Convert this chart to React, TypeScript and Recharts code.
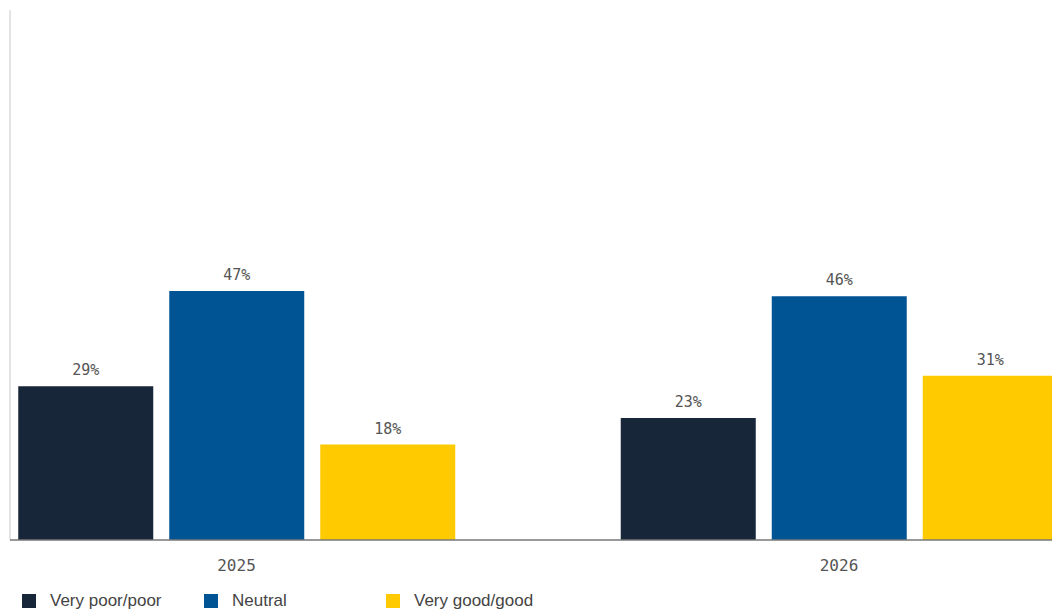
import { BarChart, Bar, XAxis, YAxis, LabelList } from "recharts";

// survey answers, share of respondents (%)
const years = ["2025", "2026"];
const veryPoorPoor = [29, 23];
const neutral = [47, 46];
const veryGoodGood = [18, 31];

const series = [
  { key: "poor", name: "Very poor/poor", color: "#172639" },
  { key: "neutral", name: "Neutral", color: "#005494" },
  { key: "good", name: "Very good/good", color: "#FFCB00" },
];

const data = years.map((year, i) => ({
  year,
  poor: veryPoorPoor[i],
  neutral: neutral[i],
  good: veryGoodGood[i],
}));

const monoFont = "'DejaVu Sans Mono', monospace";

export default function App() {
  return (
    <div
      style={{
        position: "fixed",
        top: 0,
        left: 0,
        width: 1052,
        height: 615,
        overflow: "hidden",
        background: "#fff",
      }}
    >
      <BarChart
        width={1100}
        height={615}
        data={data}
        margin={{ top: 10, right: 0, left: 9, bottom: 45 }}
        barSize={135}
        barGap={16}
      >
        <YAxis
          type="number"
          domain={[0, 100]}
          width={1}
          tick={false}
          tickLine={false}
          axisLine={{ stroke: "#c8c8c8" }}
        />
        {/* the original is cropped, so the category bands spill past the plot edges */}
        <XAxis
          dataKey="year"
          tickLine={false}
          tickMargin={14}
          axisLine={{ stroke: "#777", strokeWidth: 1.5 }}
          padding={{ left: -74.75, right: -40.25 }}
          tick={{ fontSize: 16, fill: "#555", fontFamily: monoFont }}
        />
        {series.map((s) => (
          <Bar key={s.key} dataKey={s.key} name={s.name} fill={s.color} isAnimationActive={false}>
            <LabelList
              dataKey={s.key}
              position="top"
              offset={11}
              formatter={(v: any) => `${v}%`}
              style={{ fontSize: 15, fill: "#555", fontFamily: monoFont }}
            />
          </Bar>
        ))}
      </BarChart>
      <div
        style={{
          position: "absolute",
          left: 22,
          top: 591,
          display: "flex",
          fontFamily: "'Liberation Sans', Arial, sans-serif",
          fontSize: 17,
          color: "#444",
        }}
      >
        {series.map((s) => (
          <div key={s.key} style={{ width: 182, display: "flex", alignItems: "center" }}>
            <span
              style={{
                display: "inline-block",
                width: 14,
                height: 14,
                background: s.color,
                marginRight: 14,
              }}
            />
            <span>{s.name}</span>
          </div>
        ))}
      </div>
    </div>
  );
}
